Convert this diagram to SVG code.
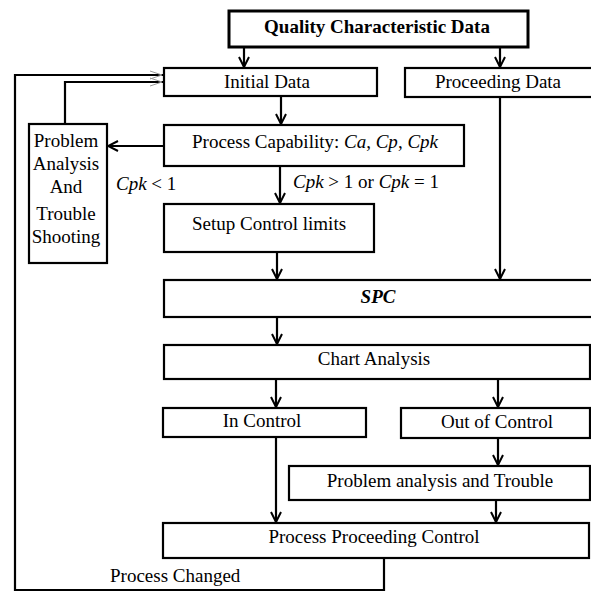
<svg xmlns="http://www.w3.org/2000/svg" width="591" height="593" viewBox="0 0 591 593">
  <style>
    .box { fill: #fff; stroke: #000; stroke-width: 2.2; }
    .box-heavy { fill: #fff; stroke: #000; stroke-width: 3; }
    .lbl { font-family: "Liberation Serif", "Times New Roman", serif; font-size: 19px; fill: #000; }
    .mid { text-anchor: middle; }
    .it { font-style: italic; }
    .wire { fill: none; stroke: #000; stroke-width: 2.2; }
    .ghost { fill: none; stroke: #999; stroke-width: 1; }
  </style>
  <defs>
    <marker id="arrow" viewBox="0 0 12 12" refX="11" refY="6" markerWidth="12" markerHeight="12" markerUnits="userSpaceOnUse" orient="auto">
      <path d="M1,1 L11,6 L1,11" fill="none" stroke="#000" stroke-width="2"/>
    </marker>
    <marker id="arrow-ghost" viewBox="0 0 14 12" refX="13" refY="6" markerWidth="14" markerHeight="12" markerUnits="userSpaceOnUse" orient="auto">
      <path d="M1,2 L13,6 L1,10" fill="none" stroke="#999" stroke-width="1"/>
    </marker>
  </defs>

  <!-- connectors -->
  <g id="connectors">
    <line class="wire" x1="244" y1="47" x2="244" y2="67" marker-end="url(#arrow)"/>
    <line class="wire" x1="500" y1="47" x2="500" y2="67" marker-end="url(#arrow)"/>
    <line class="wire" x1="281" y1="96" x2="281" y2="124" marker-end="url(#arrow)"/>
    <line class="wire" x1="164" y1="146" x2="108" y2="146" marker-end="url(#arrow)"/>
    <polyline class="wire" points="65,124 65,82 163,82"/>
    <line class="ghost" x1="150" y1="78" x2="162" y2="82"/>
    <line class="ghost" x1="150" y1="86" x2="162" y2="82"/>
    <polyline class="wire" points="384,558 384,590 15,590 15,75 163,75"/>
    <line class="ghost" x1="150" y1="71" x2="162" y2="75"/>
    <line class="ghost" x1="150" y1="79" x2="162" y2="75"/>
    <line class="wire" x1="280" y1="166" x2="280" y2="203" marker-end="url(#arrow)"/>
    <line class="wire" x1="277" y1="252" x2="277" y2="279" marker-end="url(#arrow)"/>
    <line class="wire" x1="500" y1="97" x2="500" y2="279" marker-end="url(#arrow)"/>
    <line class="wire" x1="277" y1="317" x2="277" y2="344" marker-end="url(#arrow)"/>
    <line class="wire" x1="276" y1="379" x2="276" y2="407" marker-end="url(#arrow)"/>
    <line class="wire" x1="498" y1="379" x2="498" y2="407" marker-end="url(#arrow)"/>
    <line class="wire" x1="498" y1="438" x2="498" y2="465" marker-end="url(#arrow)"/>
    <line class="wire" x1="276" y1="437" x2="276" y2="522" marker-end="url(#arrow)"/>
    <line class="wire" x1="496" y1="500" x2="496" y2="522" marker-end="url(#arrow)"/>
  </g>

  <!-- edge labels -->
  <g id="edge-labels">
    <text class="lbl" x="116" y="190"><tspan class="it">Cpk</tspan> &lt; 1</text>
    <text class="lbl" x="293" y="188"><tspan class="it">Cpk</tspan> &gt; 1 or <tspan class="it">Cpk</tspan> = 1</text>
    <text class="lbl" x="110" y="582">Process Changed</text>
  </g>

  <g id="quality-data">
    <rect class="box-heavy" x="229" y="11" width="299" height="36"/>
    <text class="lbl mid" x="377" y="33" font-weight="bold" font-size="21">Quality Characteristic Data</text>
  </g>

  <g id="initial-data">
    <rect class="box" x="164" y="68" width="213" height="28"/>
    <text class="lbl mid" x="267" y="88">Initial Data</text>
  </g>

  <g id="proceeding-data">
    <rect class="box" x="405" y="68" width="190" height="29"/>
    <text class="lbl mid" x="498" y="88">Proceeding Data</text>
  </g>

  <g id="process-capability">
    <rect class="box" x="164" y="125" width="300" height="41"/>
    <text class="lbl mid" x="315" y="148">Process Capability: <tspan class="it">Ca</tspan>, <tspan class="it">Cp</tspan>, <tspan class="it">Cpk</tspan></text>
  </g>

  <g id="problem-analysis">
    <rect class="box" x="29" y="124" width="78" height="139"/>
    <text class="lbl mid" x="66" y="147">Problem</text>
    <text class="lbl mid" x="66" y="170">Analysis</text>
    <text class="lbl mid" x="66" y="193">And</text>
    <text class="lbl mid" x="66" y="220">Trouble</text>
    <text class="lbl mid" x="66" y="243">Shooting</text>
  </g>

  <g id="setup-limits">
    <rect class="box" x="164" y="204" width="210" height="48"/>
    <text class="lbl mid" x="269" y="230">Setup Control limits</text>
  </g>

  <g id="spc">
    <rect class="box" x="164" y="280" width="432" height="37"/>
    <text class="lbl mid" x="378" y="303" font-weight="bold" font-style="italic">SPC</text>
  </g>

  <g id="chart-analysis">
    <rect class="box" x="164" y="345" width="426" height="34"/>
    <text class="lbl mid" x="374" y="365">Chart Analysis</text>
  </g>

  <g id="in-control">
    <rect class="box" x="163" y="408" width="203" height="29"/>
    <text class="lbl mid" x="262" y="427">In Control</text>
  </g>

  <g id="out-of-control">
    <rect class="box" x="401" y="408" width="189" height="30"/>
    <text class="lbl mid" x="497" y="428">Out of Control</text>
  </g>

  <g id="problem-trouble">
    <rect class="box" x="289" y="466" width="301" height="34"/>
    <text class="lbl mid" x="440" y="487">Problem analysis and Trouble</text>
  </g>

  <g id="proceeding-control">
    <rect class="box" x="163" y="523" width="426" height="35"/>
    <text class="lbl mid" x="374" y="543">Process Proceeding Control</text>
  </g>
</svg>
